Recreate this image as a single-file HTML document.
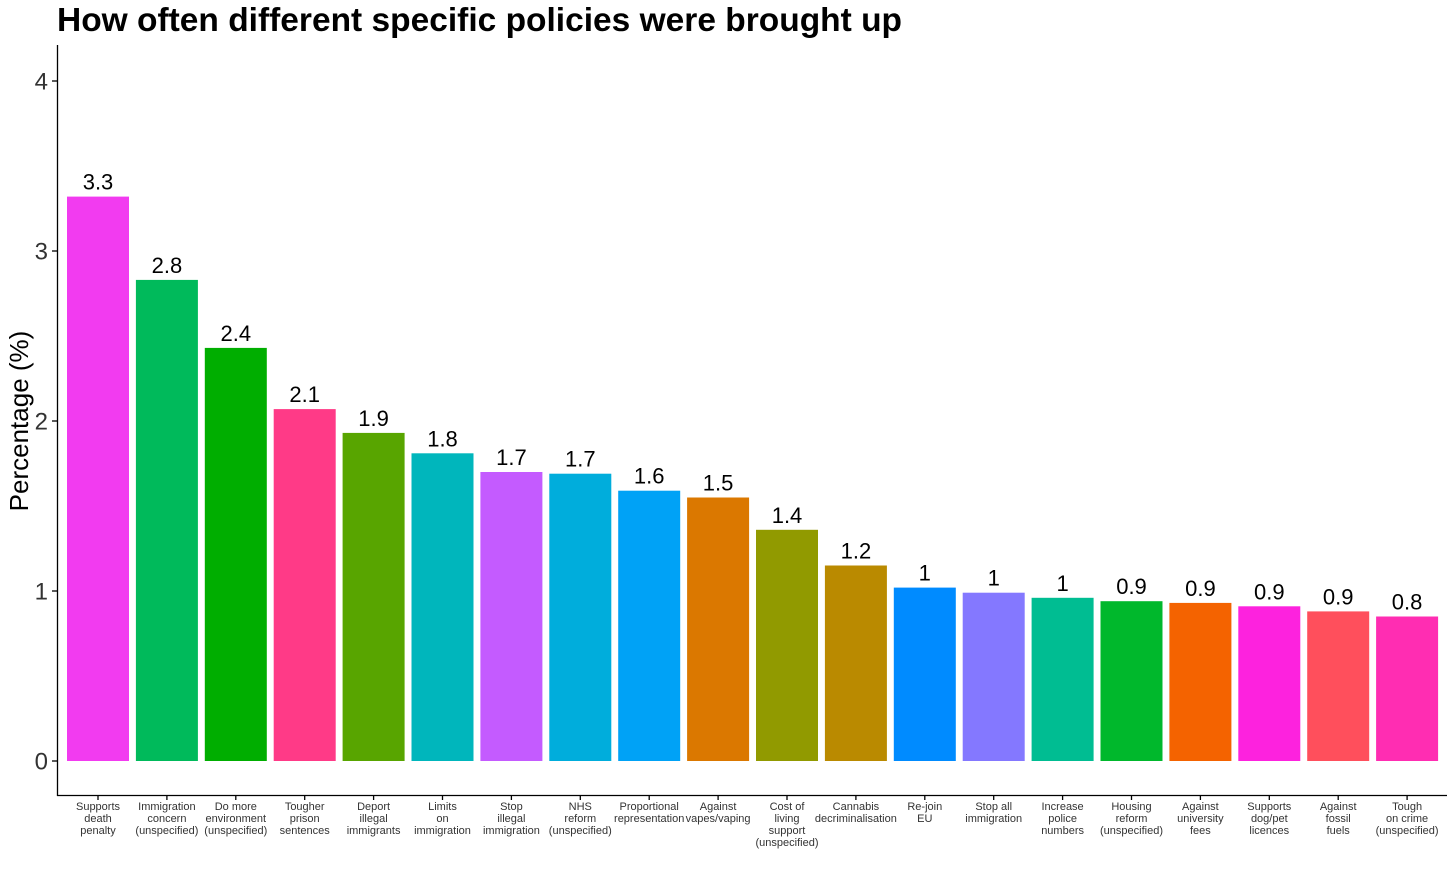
<!DOCTYPE html>
<html><head><meta charset="utf-8"><style>
body{margin:0;background:#fff;font-family:"Liberation Sans",Arial,sans-serif}
</style></head><body>
<svg id="chart" width="1456" height="886" xmlns="http://www.w3.org/2000/svg" font-family="Liberation Sans, Arial, sans-serif">
<text x="57" y="31" font-size="33.5" font-weight="bold">How often different specific policies were brought up</text>
<text transform="translate(28,421) rotate(-90)" text-anchor="middle" font-size="26">Percentage (%)</text>
<g id="marks"></g>
<line x1="57.5" y1="45" x2="57.5" y2="796" stroke="#000" stroke-width="1.3"/>
<line x1="57" y1="795.5" x2="1447" y2="795.5" stroke="#000" stroke-width="1.3"/>
</svg>
<script>
const categories=[["Supports","death","penalty"],["Immigration","concern","(unspecified)"],["Do more","environment","(unspecified)"],["Tougher","prison","sentences"],["Deport","illegal","immigrants"],["Limits","on","immigration"],["Stop","illegal","immigration"],["NHS","reform","(unspecified)"],["Proportional","representation"],["Against","vapes/vaping"],["Cost of","living","support","(unspecified)"],["Cannabis","decriminalisation"],["Re-join","EU"],["Stop all","immigration"],["Increase","police","numbers"],["Housing","reform","(unspecified)"],["Against","university","fees"],["Supports","dog/pet","licences"],["Against","fossil","fuels"],["Tough","on crime","(unspecified)"]];
const values=[3.32,2.83,2.43,2.07,1.93,1.81,1.70,1.69,1.59,1.55,1.36,1.15,1.02,0.99,0.96,0.94,0.93,0.91,0.88,0.85];
const printed=["3.3","2.8","2.4","2.1","1.9","1.8","1.7","1.7","1.6","1.5","1.4","1.2","1","1","1","0.9","0.9","0.9","0.9","0.8"];
const colors=["#F23BF0","#00BA5B","#00AE00","#FF3A87","#58A500","#00B6BC","#C45BFF","#00ADDC","#00A2F6","#DB7800","#919A00","#BA8A00","#008BFF","#8478FF","#00BD92","#00B82C","#F46300","#FD22DE","#FF4F5C","#FF2DB2"];
const yTicks=[0,1,2,3,4];
const y=v=>761-v*170, x=i=>98+i*68.9;
const ns="http://www.w3.org/2000/svg", g=document.getElementById('marks');
function mk(t,a,p){const e=document.createElementNS(ns,t);for(const k in a)e.setAttribute(k,a[k]);(p||g).appendChild(e);return e;}
yTicks.forEach(t=>{
 const l=mk('line',{x1:52,x2:57,y1:y(t),y2:y(t),stroke:'#000','stroke-width':1.3});
 
 
 const tx=mk('text',{x:48,y:y(t)+8.5,'text-anchor':'end','font-size':24,fill:'#333'});tx.textContent=t;
 
 
});
values.forEach((v,i)=>{
 const r=mk('rect',{x:x(i)-31,y:y(v),width:62,height:y(0)-y(v),fill:colors[i]});
 
 
 const t=mk('text',{x:x(i),y:y(v)-7,'text-anchor':'middle','font-size':22});t.textContent=printed[i];
 
 
 const tk=mk('line',{x1:x(i),x2:x(i),y1:795,y2:800,stroke:'#000','stroke-width':1.3});
 
 
 const xl=mk('text',{x:x(i),y:810,'text-anchor':'middle','font-size':11,fill:'#333'});
 
 
 categories[i].forEach((s,j)=>{const ts=mk('tspan',{x:x(i),dy:j?12:0},xl);ts.textContent=s;});
});
</script>
</body></html>
